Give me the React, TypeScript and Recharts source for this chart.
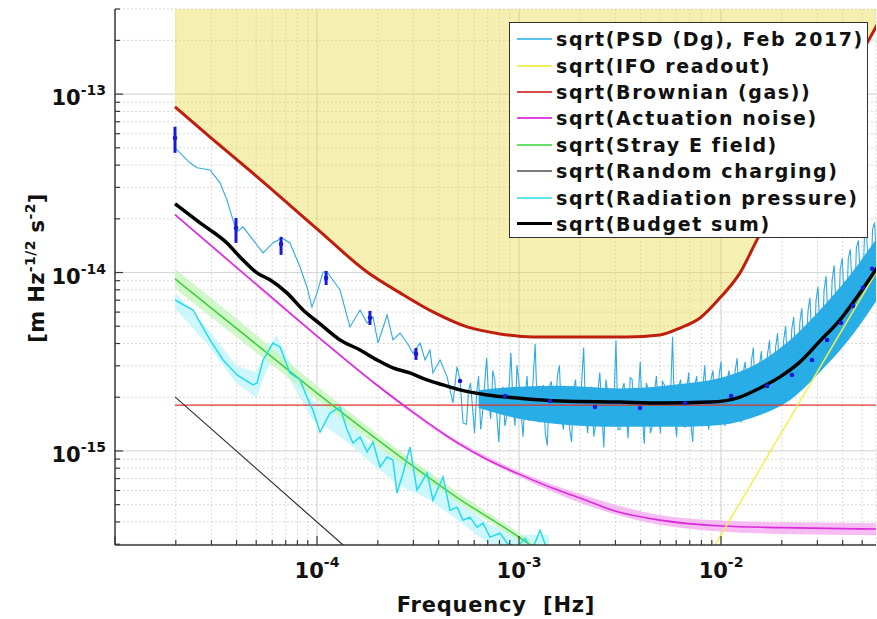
import React from 'react';
import { ComposedChart, Line, Area, Scatter, ErrorBar, XAxis, YAxis, CartesianGrid } from 'recharts';

const FONT = '"DejaVu Sans", Verdana, sans-serif';

// ---------- axis ticks ----------
const xTicks = [1e-5, 2e-5, 3e-5, 4e-5, 5e-5, 6e-5, 7e-5, 8e-5, 9e-5, 1e-4, 2e-4, 3e-4, 4e-4, 5e-4, 6e-4, 7e-4, 8e-4, 9e-4, 1e-3, 2e-3, 3e-3, 4e-3, 5e-3, 6e-3, 7e-3, 8e-3, 9e-3, 1e-2, 2e-2, 3e-2, 4e-2, 5e-2];
const yTicks = [3e-16, 4e-16, 5e-16, 6e-16, 7e-16, 8e-16, 9e-16, 1e-15, 2e-15, 3e-15, 4e-15, 5e-15, 6e-15, 7e-15, 8e-15, 9e-15, 1e-14, 2e-14, 3e-14, 4e-14, 5e-14, 6e-14, 7e-14, 8e-14, 9e-14, 1e-13, 2e-13, 3e-13];
const xMajor = [1e-4, 1e-3, 1e-2];
const yMajor = [1e-15, 1e-14, 1e-13];
const xDomain = [1e-5, 0.0585];
const yDomain = [2.97e-16, 3.0e-13];

// ---------- series values (log10 of frequency [Hz] and of ASD) ----------
const reqLogF = [-4.703, -4.525, -4.302, -4.0, -3.752, -3.589, -3.426, -3.257, -3.094, -2.931, -2.634, -2.465, -2.302, -2.203, -2.104, -2.005, -1.906, -1.822, -1.698, -1.525, -1.396, -1.282, -1.213];
const reqLogV = [-13.071, -13.245, -13.458, -13.755, -13.997, -14.114, -14.221, -14.305, -14.344, -14.361, -14.361, -14.361, -14.35, -14.311, -14.255, -14.142, -14.002, -13.817, -13.565, -13.212, -12.948, -12.724, -12.583];
const reqTopLog = -12.5;

const psdLowLogF = [-4.703, -4.629, -4.594, -4.530, -4.480, -4.446, -4.416, -4.396, -4.366, -4.317, -4.267, -4.218, -4.173, -4.134, -4.084, -4.050, -4.025, -4.000, -3.970, -3.950, -3.886, -3.837, -3.787, -3.752, -3.723, -3.698, -3.653, -3.624, -3.589, -3.554, -3.525, -3.490, -3.465, -3.441, -3.426, -3.391, -3.356, -3.327, -3.307, -3.292, -3.277];
const psdLowLogV = [-13.301, -13.385, -13.413, -13.425, -13.497, -13.593, -13.705, -13.772, -13.744, -13.817, -13.890, -13.834, -13.806, -13.834, -13.969, -14.081, -14.193, -14.114, -13.997, -13.997, -14.098, -14.305, -14.210, -14.283, -14.249, -14.395, -14.238, -14.378, -14.339, -14.395, -14.451, -14.395, -14.490, -14.434, -14.563, -14.490, -14.585, -14.731, -14.529, -14.602, -14.843];

const psdNoiseLogF = [-3.26, -3.24, -3.22, -3.20, -3.18, -3.16, -3.14, -3.12, -3.10, -3.08, -3.06, -3.04, -3.02, -3.00, -2.98, -2.96, -2.94, -2.92, -2.90, -2.88, -2.86, -2.84, -2.82, -2.80, -2.78, -2.76, -2.74, -2.72, -2.70, -2.68, -2.66, -2.64, -2.62, -2.60, -2.58, -2.56, -2.54, -2.52, -2.50, -2.48, -2.46, -2.44, -2.42, -2.40, -2.38, -2.36, -2.34, -2.32, -2.30, -2.28, -2.26, -2.24, -2.22, -2.20, -2.18, -2.16, -2.14, -2.12, -2.10, -2.08, -2.06, -2.04, -2.02, -2.00, -1.98, -1.96, -1.94, -1.92, -1.90, -1.88, -1.86, -1.84, -1.82, -1.80, -1.78, -1.76, -1.74, -1.72, -1.70, -1.68, -1.66, -1.64, -1.62, -1.60, -1.58, -1.56, -1.54, -1.52, -1.50, -1.48, -1.46, -1.44, -1.42, -1.40, -1.38, -1.36, -1.34, -1.32, -1.30, -1.28, -1.26, -1.24, -1.22];
const psdNoiseLogV = [-14.85, -14.62, -14.90, -14.58, -14.78, -14.48, -14.82, -14.60, -14.95, -14.64, -14.80, -14.45, -14.86, -14.62, -14.92, -14.58, -14.76, -14.40, -14.84, -14.63, -14.97, -14.61, -14.80, -14.52, -14.88, -14.66, -14.95, -14.60, -14.82, -14.42, -14.90, -14.64, -14.85, -14.56, -14.98, -14.68, -14.84, -14.38, -14.88, -14.62, -14.93, -14.60, -14.82, -14.50, -14.96, -14.65, -14.86, -14.58, -14.90, -14.63, -14.80, -14.36, -14.92, -14.60, -14.87, -14.56, -14.95, -14.58, -14.83, -14.52, -14.88, -14.55, -14.84, -14.50, -14.86, -14.55, -14.82, -14.48, -14.84, -14.50, -14.80, -14.42, -14.80, -14.44, -14.76, -14.38, -14.74, -14.34, -14.70, -14.30, -14.66, -14.25, -14.62, -14.20, -14.58, -14.14, -14.52, -14.08, -14.46, -14.02, -14.40, -13.96, -14.34, -13.92, -14.30, -13.87, -14.24, -13.82, -14.18, -13.77, -14.12, -13.72, -14.06];
const psdNoise2LogF = [
  -3.25, -3.23, -3.21, -3.19, -3.17, -3.15, -3.13, -3.11, -3.09, -3.07,
  -3.05, -3.03, -3.01, -2.99, -2.97, -2.95, -2.93, -2.91, -2.89, -2.87,
  -2.85, -2.83, -2.81, -2.79, -2.77, -2.75, -2.73, -2.71, -2.69, -2.67,
  -2.65, -2.63, -2.61, -2.59, -2.57, -2.55, -2.53, -2.51, -2.49, -2.47,
  -2.45, -2.43, -2.41, -2.39, -2.37, -2.35, -2.33, -2.31, -2.29, -2.27,
  -2.25, -2.23, -2.21, -2.19, -2.17, -2.15, -2.13, -2.11, -2.09, -2.07,
  -2.05, -2.03, -2.01, -1.99, -1.97, -1.95, -1.93, -1.91, -1.89, -1.87,
  -1.85, -1.83, -1.81, -1.79, -1.77, -1.75, -1.73, -1.71, -1.69, -1.67,
  -1.65, -1.63, -1.61, -1.59, -1.57, -1.55, -1.53, -1.51, -1.49, -1.47,
  -1.45, -1.43, -1.41, -1.39, -1.37, -1.35, -1.33, -1.31, -1.29, -1.27,
  -1.25, -1.23];
const psdNoise2LogV = [
  -14.66, -14.76, -14.68, -14.88, -14.62, -14.72, -14.55, -14.80, -14.70, -14.86,
  -14.66, -14.74, -14.52, -14.78, -14.69, -14.83, -14.60, -14.77, -14.68, -14.90,
  -14.64, -14.75, -14.58, -14.82, -14.70, -14.87, -14.66, -14.78, -14.62, -14.80,
  -14.70, -14.92, -14.67, -14.79, -14.60, -14.83, -14.72, -14.88, -14.66, -14.78,
  -14.59, -14.86, -14.70, -14.80, -14.62, -14.90, -14.68, -14.77, -14.61, -14.85,
  -14.70, -14.81, -14.64, -14.78, -14.66, -14.84, -14.63, -14.78, -14.64, -14.82,
  -14.60, -14.76, -14.58, -14.80, -14.60, -14.74, -14.55, -14.76, -14.56, -14.70,
  -14.50, -14.72, -14.52, -14.66, -14.46, -14.64, -14.42, -14.60, -14.38, -14.56,
  -14.32, -14.52, -14.28, -14.46, -14.22, -14.40, -14.16, -14.34, -14.10, -14.28,
  -14.04, -14.22, -13.98, -14.16, -13.92, -14.10, -13.86, -14.04, -13.80, -13.98,
  -13.76, -13.92];

const psdBandLogF = [-3.2, -3.0, -2.8, -2.5, -2.203, -2.005, -1.807, -1.658, -1.51, -1.361, -1.228];
const psdBandLo = [-14.76, -14.82, -14.85, -14.865, -14.865, -14.855, -14.799, -14.714, -14.557, -14.367, -14.154];
const psdBandHi = [-14.66, -14.64, -14.635, -14.65, -14.625, -14.591, -14.501, -14.378, -14.210, -14.013, -13.805];

const dotErrLogF = [-4.703, -4.401, -4.178, -3.955, -3.738, -3.510];
const dotErrLogV = [-13.246, -13.750, -13.840, -14.030, -14.254, -14.456];
const dotErrLo = [-13.329, -13.834, -13.901, -14.070, -14.294, -14.490];
const dotErrHi = [-13.183, -13.694, -13.800, -13.991, -14.215, -14.423];
const dotLogF = [-3.292, -3.069, -2.847, -2.624, -2.401, -2.178, -1.950, -1.772, -1.649, -1.550, -1.475, -1.406, -1.347, -1.297, -1.252];
const dotLogV = [-14.608, -14.692, -14.720, -14.754, -14.759, -14.731, -14.692, -14.636, -14.574, -14.490, -14.378, -14.282, -14.187, -14.086, -13.979];

const ifoLogF = [-2.06, -1.693, -1.228];
const ifoLogV = [-15.586, -14.882, -13.990];

const brownLogF = [-4.703, -1.20];
const brownLogV = [-14.743, -14.743];

const actLogF = [-4.703, -4.302, -4.0, -3.698, -3.525, -3.302, -3.153, -3.0, -2.822, -2.698, -2.525, -2.302, -2.0, -1.698, -1.228];
const actLogV = [-13.676, -14.064, -14.356, -14.636, -14.782, -14.956, -15.051, -15.130, -15.214, -15.264, -15.337, -15.388, -15.421, -15.430, -15.438];
const actBandLogF = [-4.703, -4.0, -3.3, -3.0, -2.7, -2.3, -2.0, -1.7, -1.228];
const actBandLo = [-13.680, -14.362, -14.968, -15.145, -15.29, -15.415, -15.452, -15.465, -15.472];
const actBandHi = [-13.672, -14.350, -14.945, -15.115, -15.24, -15.36, -15.39, -15.40, -15.405];

const strayLogF = [-4.703, -4.302, -4.0, -3.698, -3.302, -3.0, -2.921];
const strayLogV = [-14.036, -14.401, -14.676, -14.939, -15.264, -15.483, -15.545];
const strayBandLogF = [-4.703, -4.30, -4.00, -3.70, -3.30, -3.00, -2.92];
const strayBandLo = [-14.09, -14.45, -14.715, -14.975, -15.29, -15.505, -15.57];
const strayBandHi = [-13.98, -14.35, -14.635, -14.905, -15.235, -15.46, -15.52];

const chargeLogF = [-4.703, -3.871, -3.70];
const chargeLogV = [-14.697, -15.527, -15.70];

const radLogF = [-4.703, -4.614, -4.530, -4.465, -4.396, -4.317, -4.297, -4.267, -4.218, -4.183, -4.134, -4.084, -4.050, -4.020, -3.985, -3.936, -3.886, -3.851, -3.822, -3.787, -3.752, -3.723, -3.688, -3.653, -3.624, -3.604, -3.574, -3.540, -3.505, -3.455, -3.426, -3.376, -3.342, -3.307, -3.277, -3.243, -3.208, -3.178, -3.144, -3.094, -3.059, -3.010, -2.970, -2.936, -2.896, -2.856];
const radLogV = [-14.154, -14.210, -14.378, -14.490, -14.574, -14.630, -14.619, -14.490, -14.395, -14.417, -14.563, -14.602, -14.698, -14.771, -14.894, -14.788, -14.754, -14.883, -14.956, -14.922, -15.006, -14.950, -15.090, -15.034, -15.051, -15.236, -15.124, -14.978, -15.219, -15.124, -15.275, -15.146, -15.332, -15.315, -15.388, -15.371, -15.427, -15.405, -15.483, -15.461, -15.517, -15.540, -15.489, -15.557, -15.445, -15.568];
const radBandLogF = [-4.703, -4.53, -4.40, -4.30, -4.25, -4.20, -4.13, -4.02, -3.95, -3.85, -3.75, -3.60, -3.45, -3.30, -3.15, -3.0, -2.85];
const radBandLo = [-14.20, -14.42, -14.62, -14.70, -14.55, -14.46, -14.61, -14.83, -14.87, -14.95, -15.05, -15.19, -15.27, -15.39, -15.52, -15.58, -15.60];
const radBandHi = [-14.11, -14.33, -14.52, -14.56, -14.43, -14.35, -14.51, -14.72, -14.75, -14.82, -14.95, -15.04, -15.11, -15.28, -15.41, -15.47, -15.47];

const budgetLogF = [-4.703, -4.579, -4.446, -4.381, -4.297, -4.233, -4.149, -4.069, -3.985, -3.886, -3.787, -3.703, -3.624, -3.540, -3.455, -3.376, -3.292, -3.158, -3.010, -2.797, -2.500, -2.302, -2.054, -1.906, -1.807, -1.708, -1.609, -1.510, -1.411, -1.312, -1.228];
const budgetLogV = [-13.615, -13.722, -13.834, -13.913, -14.002, -14.041, -14.114, -14.210, -14.288, -14.378, -14.434, -14.490, -14.535, -14.563, -14.602, -14.630, -14.658, -14.686, -14.703, -14.720, -14.726, -14.731, -14.726, -14.698, -14.647, -14.585, -14.501, -14.383, -14.265, -14.114, -13.974];

const legendItems = [
  { name: 'sqrt(PSD (Dg), Feb 2017)', color: '#5bc0ea', w: 2 },
  { name: 'sqrt(IFO readout)', color: '#f0ee60', w: 2 },
  { name: 'sqrt(Brownian (gas))', color: '#d84a4a', w: 2 },
  { name: 'sqrt(Actuation noise)', color: '#dd44dd', w: 2 },
  { name: 'sqrt(Stray E field)', color: '#66e066', w: 2 },
  { name: 'sqrt(Random charging)', color: '#7a7a7a', w: 2 },
  { name: 'sqrt(Radiation pressure)', color: '#5fe4ee', w: 2 },
  { name: 'sqrt(Budget sum)', color: '#000000', w: 3 },
];

// ---------- helpers ----------
const p10 = (x: number) => Math.pow(10, x);
const pts = (lf: number[], lv: number[]) => lf.map((x, i) => ({ f: p10(x), v: p10(lv[i]) }));
const band = (lf: number[], lo: number[], hi: number[]) => lf.map((x, i) => ({ f: p10(x), b: [p10(lo[i]), p10(hi[i])] }));

const reqData = reqLogF.map((x, i) => ({ f: p10(x), v: p10(reqLogV[i]), b: [p10(reqLogV[i]), p10(reqTopLog)] }));
const psdData = [
  ...pts(psdLowLogF, psdLowLogV),
  ...[...pts(psdNoiseLogF, psdNoiseLogV), ...pts(psdNoise2LogF, psdNoise2LogV)].sort((a, b) => a.f - b.f),
];
const psdBand = band(psdBandLogF, psdBandLo, psdBandHi);
const dotErrData = dotErrLogF.map((x, i) => {
  const v = p10(dotErrLogV[i]);
  return { f: p10(x), v, err: [v - p10(dotErrLo[i]), p10(dotErrHi[i]) - v] };
});
const dotData = pts(dotLogF, dotLogV);
const ifoData = pts(ifoLogF, ifoLogV);
const brownData = pts(brownLogF, brownLogV);
const actData = pts(actLogF, actLogV);
const actBand = band(actBandLogF, actBandLo, actBandHi);
const strayData = pts(strayLogF, strayLogV);
const strayBand = band(strayBandLogF, strayBandLo, strayBandHi);
const chargeData = pts(chargeLogF, chargeLogV);
const radData = pts(radLogF, radLogV);
const radBand = band(radBandLogF, radBandLo, radBandHi);
const budgetData = pts(budgetLogF, budgetLogV);

const isMajor = (v: number) => Math.abs(Math.log10(v) - Math.round(Math.log10(v))) < 1e-6;
const AX = '#3a3a3a';

const XTickBottom = (props: any) => {
  const { x, y, payload } = props;
  const v = payload.value;
  const major = isMajor(v);
  const e = Math.round(Math.log10(v));
  return (
    <g>
      <line x1={x} x2={x} y1={y} y2={y - (major ? 9 : 5)} stroke={AX} strokeWidth={1.2} />
      {major && e > -5 && (
        <text x={x} y={y + 33} textAnchor="middle" fontFamily={FONT} fontWeight="bold" fontSize={21} fill="#111">
          10<tspan dy={-11} fontSize={14}>{String(e)}</tspan>
        </text>
      )}
    </g>
  );
};
const XTickTop = (props: any) => {
  const { x, y, payload } = props;
  const major = isMajor(payload.value);
  return <line x1={x} x2={x} y1={y} y2={y + (major ? 9 : 5)} stroke={AX} strokeWidth={1.2} />;
};
const YTickLeft = (props: any) => {
  const { x, y, payload } = props;
  const v = payload.value;
  const major = isMajor(v);
  const e = Math.round(Math.log10(v));
  return (
    <g>
      <line x1={x} x2={x + (major ? 8 : 5)} y1={y} y2={y} stroke={AX} strokeWidth={1.2} />
      {major && (
        <text x={x - 9} y={y + 11} textAnchor="end" fontFamily={FONT} fontWeight="bold" fontSize={21} fill="#111">
          10<tspan dy={-10} fontSize={14}>{String(e)}</tspan>
        </text>
      )}
    </g>
  );
};
const YTickRight = (props: any) => {
  const { x, y, payload } = props;
  const major = isMajor(payload.value);
  return <line x1={x} x2={x - (major ? 8 : 5)} y1={y} y2={y} stroke={AX} strokeWidth={1.2} />;
};

const DotShape = (props: any) => {
  const { cx, cy } = props;
  if (cx == null || cy == null) return null;
  return <circle cx={cx} cy={cy} r={2.3} fill="#1a1ad6" />;
};

const W = 877;
const H = 619;

export default function App() {
  return (
    <div style={{ position: 'absolute', left: 0, top: 0, width: W, height: H, background: '#fff', overflow: 'hidden' }}>
      <ComposedChart width={W} height={H} margin={{ top: 9, right: 1, bottom: 0, left: 0 }}>
        <CartesianGrid stroke="#cfcfcf" strokeDasharray="2 2" strokeWidth={0.8} />
        <CartesianGrid stroke="#d6d6d6" strokeWidth={1} horizontalValues={yMajor} verticalValues={xMajor} />
        <XAxis dataKey="f" type="number" scale="log" domain={xDomain} allowDataOverflow ticks={xTicks} interval={0}
          height={74} tickSize={0} tickMargin={0} tick={<XTickBottom />} axisLine={{ stroke: AX, strokeWidth: 1.5 }} tickLine={false} />
        <XAxis xAxisId="top" orientation="top" dataKey="f" type="number" scale="log" domain={xDomain} allowDataOverflow ticks={xTicks} interval={0}
          height={0} tickSize={0} tickMargin={0} tick={<XTickTop />} axisLine={{ stroke: AX, strokeWidth: 1.5 }} tickLine={false} />
        <YAxis dataKey="v" type="number" scale="log" domain={yDomain} allowDataOverflow ticks={yTicks} interval={0}
          width={115} tickSize={0} tickMargin={0} tick={<YTickLeft />} axisLine={{ stroke: AX, strokeWidth: 1.5 }} tickLine={false} />
        <YAxis yAxisId="right" orientation="right" dataKey="v" type="number" scale="log" domain={yDomain} allowDataOverflow ticks={yTicks} interval={0}
          width={0} tickSize={0} tickMargin={0} tick={<YTickRight />} axisLine={{ stroke: AX, strokeWidth: 1.5 }} tickLine={false} />

        <Area data={reqData} dataKey="b" type="monotoneX" stroke="none" fill="#e8dc52" fillOpacity={0.45} isAnimationActive={false} />
        <Line data={reqData} dataKey="v" type="monotoneX" stroke="#c01e0c" strokeWidth={3} dot={false} isAnimationActive={false} />

        <Area data={radBand} dataKey="b" type="linear" stroke="none" fill="#c4f6f9" fillOpacity={0.85} isAnimationActive={false} />
        <Area data={strayBand} dataKey="b" type="monotoneX" stroke="none" fill="#c6f5bd" fillOpacity={0.8} isAnimationActive={false} />
        <Area data={actBand} dataKey="b" type="monotoneX" stroke="none" fill="#f6b5f2" fillOpacity={0.9} isAnimationActive={false} />

        <Area data={psdBand} dataKey="b" type="monotoneX" stroke="none" fill="#27aee6" fillOpacity={1} isAnimationActive={false} />
        <Line data={psdData} dataKey="v" type="linear" stroke="#2eaae4" strokeWidth={1.1} dot={false} isAnimationActive={false} />

        <Line data={brownData} dataKey="v" type="linear" stroke="#e0322a" strokeWidth={1.2} dot={false} isAnimationActive={false} />
        <Line data={chargeData} dataKey="v" type="linear" stroke="#333333" strokeWidth={1.2} dot={false} isAnimationActive={false} />
        <Line data={strayData} dataKey="v" type="monotoneX" stroke="#3fcf3f" strokeWidth={1.5} dot={false} isAnimationActive={false} />
        <Line data={radData} dataKey="v" type="linear" stroke="#22dcef" strokeWidth={1.5} dot={false} isAnimationActive={false} />
        <Line data={actData} dataKey="v" type="monotoneX" stroke="#d92bd9" strokeWidth={1.6} dot={false} isAnimationActive={false} />
        <Line data={ifoData} dataKey="v" type="linear" stroke="#f2f04a" strokeWidth={1.5} dot={false} isAnimationActive={false} />
        <Line data={budgetData} dataKey="v" type="monotoneX" stroke="#000000" strokeWidth={3.5} dot={false} isAnimationActive={false} />

        <Scatter data={dotErrData} dataKey="v" shape={<DotShape />} isAnimationActive={false}>
          <ErrorBar dataKey="err" direction="y" width={0} stroke="#1a1ad6" strokeWidth={3} isAnimationActive={false} />
        </Scatter>
        <Scatter data={dotData} dataKey="v" shape={<DotShape />} isAnimationActive={false} />
      </ComposedChart>

      <svg width={W} height={H} style={{ position: 'absolute', left: 0, top: 0, pointerEvents: 'none' }}>
        <text x={496} y={612} textAnchor="middle" fontFamily={FONT} fontWeight="bold" fontSize={21} letterSpacing={0.8} fill="#111" style={{ whiteSpace: 'pre' }}>
          {'Frequency  [Hz]'}
        </text>
        <text transform="translate(44,268) rotate(-90)" textAnchor="middle" fontFamily={FONT} fontWeight="bold" fontSize={21} letterSpacing={0.4} fill="#111">
          [m Hz<tspan dy={-9} fontSize={14}>-1/2</tspan><tspan dy={9}> s</tspan><tspan dy={-9} fontSize={14}>-2</tspan><tspan dy={9}>]</tspan>
        </text>
      </svg>

      <div style={{ position: 'absolute', left: 509, top: 22, width: 359, height: 216, boxSizing: 'border-box', border: '1.5px solid #333', background: '#fff', paddingTop: 3 }}>
        {legendItems.map((it) => (
          <div key={it.name} style={{ height: 26.4, display: 'flex', alignItems: 'center', whiteSpace: 'nowrap' }}>
            <div style={{ width: 35, marginLeft: 7, height: it.w, background: it.color }} />
            <span style={{ marginLeft: 4, fontFamily: FONT, fontWeight: 'bold', fontSize: 19, letterSpacing: 1.6, color: '#111' }}>{it.name}</span>
          </div>
        ))}
      </div>
    </div>
  );
}
